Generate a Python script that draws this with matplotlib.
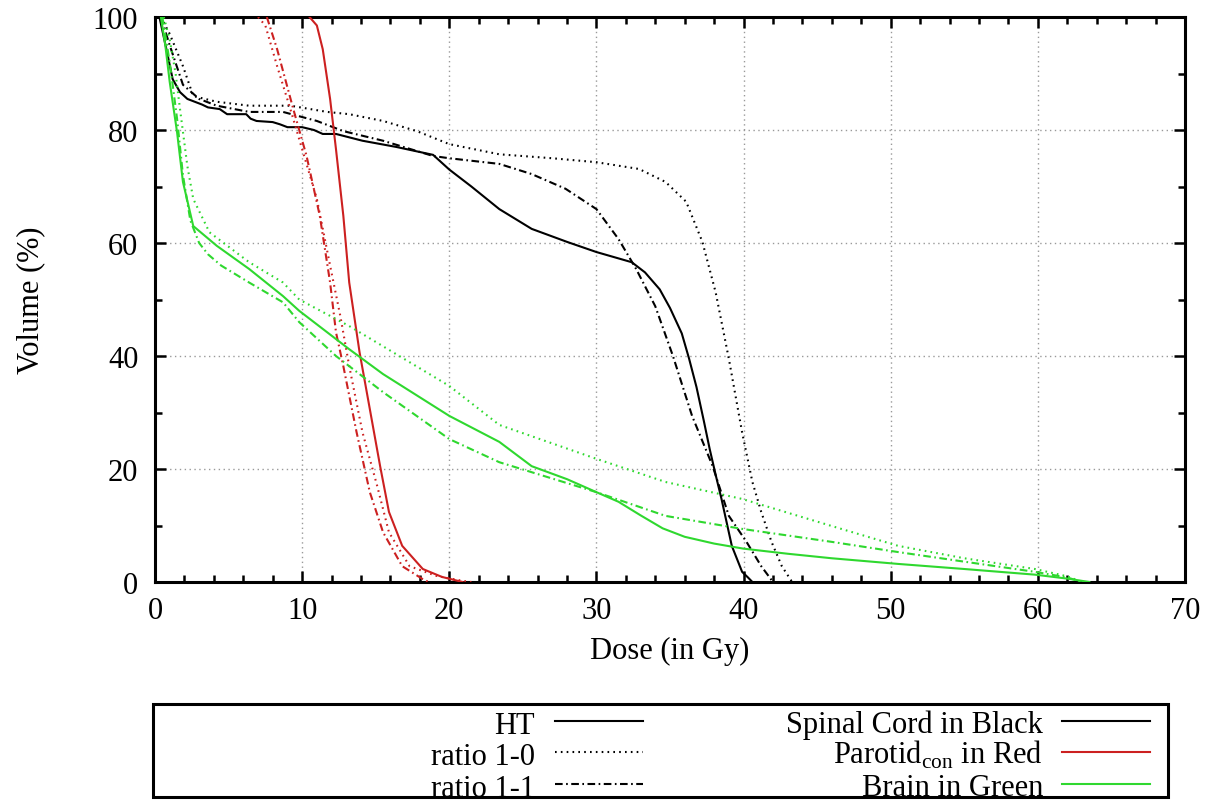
import matplotlib
matplotlib.use("Agg")
import matplotlib.pyplot as plt
from matplotlib.lines import Line2D
from matplotlib.patches import Rectangle
from matplotlib.ticker import MultipleLocator

plt.rcParams['font.family'] = ['Liberation Serif', 'DejaVu Serif']
plt.rcParams['mathtext.fontset'] = 'custom'
plt.rcParams['mathtext.rm'] = 'Liberation Serif'
plt.rcParams['lines.scale_dashes'] = False

# ---- data (Dose in Gy, Volume in %) ----
cord_ht_x = [0.3, 0.8, 1.2, 1.7, 2.2, 2.6, 3.2, 3.6, 4.4, 4.9, 5.6, 6.2, 6.5, 6.9, 8.0, 8.5, 9.0, 10.0,
             10.8, 11.4, 12.3, 14.1, 16.4, 18.9, 20.0, 21.5, 23.4, 25.6, 28.0, 30.0, 32.4, 33.3, 34.3,
             35.0, 35.8, 36.3, 36.8, 37.3, 37.7, 38.1, 38.5, 39.2, 39.9, 40.3, 40.6]
cord_ht_y = [100, 94, 89, 86.7, 85.5, 85.1, 84.5, 84.0, 83.7, 82.8, 82.8, 82.8, 82.0, 81.6, 81.4, 81.0,
             80.5, 80.5, 80.0, 79.3, 79.3, 78.1, 77.0, 75.6, 73.0, 70.0, 66.0, 62.5, 60.2, 58.4, 56.6,
             54.8, 51.8, 48.5, 44.0, 39.5, 34.5, 28.5, 23.5, 19.0, 14.7, 6.4, 1.8, 0.8, 0.0]

cord_r10_x = [0.4, 1.0, 1.9, 2.6, 4.2, 6.4, 9.2, 11.7, 13.2, 15.5, 17.8, 20.0, 23.4, 27.0, 30.0, 32.9,
              34.7, 36.1, 37.2, 38.1, 39.0, 39.9, 40.6, 41.2, 41.9, 42.6, 43.3]
cord_r10_y = [100, 97, 91.3, 86, 85, 84.3, 84.3, 83.2, 82.8, 81.6, 79.8, 77.5, 75.7, 75.0, 74.3, 73.1,
              70.8, 67.3, 60.2, 51.3, 39.5, 26.5, 17.7, 12.4, 7.1, 2.8, 0.0]

cord_r11_x = [0.4, 1.0, 1.9, 3.0, 4.2, 6.4, 8.7, 11.0, 12.8, 15.5, 18.9, 20.0, 23.4, 25.6, 27.9, 30.0,
              31.5, 32.7, 34.0, 35.2, 36.5, 37.9, 39.0, 40.2, 41.2, 42.0]
cord_r11_y = [100, 95, 88, 85.5, 84.3, 83.2, 83.2, 81.6, 79.8, 78.1, 75.4, 75.0, 74.0, 72.2, 69.6, 66.0,
              60.7, 55.4, 48.8, 40.0, 29.4, 20.5, 11.7, 7.1, 2.8, 0.0]

par_ht_x = [10.5, 11.0, 11.4, 11.9, 12.3, 12.8, 13.2, 13.9, 14.6, 15.3, 15.9, 16.8, 18.2, 19.5, 20.9]
par_ht_y = [100, 98.5, 94.3, 85.5, 76.6, 64.8, 53, 40.7, 30.6, 20.5, 12.4, 6.4, 2.3, 0.9, 0]

par_r10_x = [7.0, 7.5, 8.3, 9.2, 10.0, 11.0, 11.9, 12.6, 13.2, 14.1, 15.1, 15.9, 17.3, 19.1, 20.9, 21.5]
par_r10_y = [100, 98.5, 91.3, 83.7, 76.6, 67.8, 56, 47, 38.2, 26.5, 17, 8.8, 2.8, 1.1, 0.2, 0]

par_r11_x = [7.6, 8.3, 9.4, 10.3, 11.2, 11.9, 12.3, 12.8, 13.7, 14.6, 15.5, 16.8, 18.2, 18.6]
par_r11_y = [100, 94.3, 83.7, 75.4, 64.8, 53, 44.2, 38.2, 26.5, 15.9, 8.8, 2.8, 0.5, 0]

brain_ht_x = [0.4, 0.7, 1.0, 1.5, 1.9, 2.6, 4.2, 6.4, 8.7, 9.8, 13.2, 15.5, 20.0, 23.4, 25.6, 28.0,
              30.0, 31.5, 33.0, 34.5, 36.0, 38.0, 40.0, 43.0, 46.0, 50.5, 55.0, 59.8, 62.0, 63.5]
brain_ht_y = [100, 95, 88.5, 79.6, 70.8, 63, 59.5, 55.4, 50.6, 48, 41.2, 36.8, 29.4, 24.8, 20.5, 18.2,
              15.9, 14.2, 11.8, 9.5, 8.0, 6.8, 5.9, 5.0, 4.2, 3.2, 2.3, 1.3, 0.6, 0]

brain_r10_x = [0.6, 1.0, 1.4, 1.7, 2.2, 2.6, 3.7, 6.4, 8.7, 9.8, 13.2, 16.6, 20.0, 23.4, 30.0, 34.7,
               39.9, 46.0, 50.5, 55.0, 59.8, 62.0, 63.0]
brain_r10_y = [100, 96, 90, 83.7, 73.6, 67.8, 61.9, 56.6, 53, 50, 45.3, 40, 34.7, 27.8, 21.8, 17.7,
               14.7, 9.9, 6.4, 4.2, 2.3, 1.0, 0]

brain_r11_x = [0.5, 1.0, 1.5, 1.9, 2.4, 3.0, 3.6, 4.5, 6.4, 8.7, 9.8, 12.3, 15.5, 20.0, 23.4, 30.0,
               34.7, 39.9, 46.0, 50.5, 55.0, 59.8, 62.0, 63.0]
brain_r11_y = [100, 92, 82, 72, 64, 60, 58, 56, 53, 49.5, 46, 40, 33.6, 25.3, 21.2, 15.9, 11.7, 9.4,
               7.1, 5.3, 3.6, 1.8, 0.8, 0]

method_labels = ['HT', 'ratio 1-0', 'ratio 1-1']
organ_labels = ['Spinal Cord in Black', r'Parotid$_{\mathrm{con}}$ in Red', 'Brain in Green']

# ---- styles ----
BLACK = '#000000'
RED = '#cc2020'
GREEN = '#2fd82f'
LW = 1.5
STYLES = ['-', (0, (1.2, 3.0)), (0, (5.5, 2.5, 1.2, 2.5))]
COLORS = [BLACK, RED, GREEN]

W, H = 1217, 804
fig = plt.figure(figsize=(W / 100, H / 100), dpi=100)
ax = fig.add_axes([155 / W, 1 - 583 / H, (1185 - 155) / W, (583 - 18) / H])

series = [
    [(cord_ht_x, cord_ht_y), (cord_r10_x, cord_r10_y), (cord_r11_x, cord_r11_y)],
    [(par_ht_x, par_ht_y), (par_r10_x, par_r10_y), (par_r11_x, par_r11_y)],
    [(brain_ht_x, brain_ht_y), (brain_r10_x, brain_r10_y), (brain_r11_x, brain_r11_y)],
]
for organ, color in zip(series, COLORS):
    for (xs, ys), ls in zip(organ, STYLES):
        ax.plot(xs, ys, color=color, linestyle=ls, linewidth=LW, zorder=3)

ax.set_xlim(0, 70)
ax.set_ylim(0, 100)
ax.xaxis.set_major_locator(MultipleLocator(10))
ax.xaxis.set_minor_locator(MultipleLocator(2))
ax.yaxis.set_major_locator(MultipleLocator(20))
ax.yaxis.set_minor_locator(MultipleLocator(10))
ax.grid(True, which='major', color='#999999', linestyle=(0, (1, 2.5)), linewidth=1.0, zorder=1)
ax.tick_params(which='both', direction='in', top=True, right=True, width=1.8, labelsize=22)
ax.tick_params(which='major', length=8, pad=10)
ax.tick_params(which='minor', length=5)
ax.tick_params(axis='y', pad=12)
for sp in ax.spines.values():
    sp.set_linewidth(2.2)

ax.set_xlabel('Dose (in Gy)', fontsize=22)
ax.set_ylabel('Volume (%)', fontsize=22)
ax.xaxis.set_label_coords(0.5, -0.095)
ax.yaxis.set_label_coords(-0.107, 0.5)

# ---- legend box (manual, right-aligned entries like gnuplot) ----
box = Rectangle((153 / W, 1 - 798 / H), (1168 - 153) / W, (798 - 705) / H,
                transform=fig.transFigure, fill=False, edgecolor='black', linewidth=2.2)
fig.add_artist(box)

rows_y = [722, 753, 785]
for lab, ls, ry in zip(method_labels, STYLES, rows_y):
    fig.text(535 / W, 1 - (ry + 12) / H, lab, ha='right', va='baseline', fontsize=22)
    fig.add_artist(Line2D([555 / W, 643 / W], [1 - ry / H, 1 - ry / H], transform=fig.transFigure,
                          color=BLACK, linestyle=ls, linewidth=LW))
for lab, col, ry in zip(organ_labels, COLORS, rows_y):
    fig.text(1043 / W, 1 - (ry + 11) / H, lab, ha='right', va='baseline', fontsize=22)
    fig.add_artist(Line2D([1062 / W, 1150 / W], [1 - ry / H, 1 - ry / H], transform=fig.transFigure,
                          color=col, linestyle='-', linewidth=LW))

fig.savefig('out.png', dpi=100)
